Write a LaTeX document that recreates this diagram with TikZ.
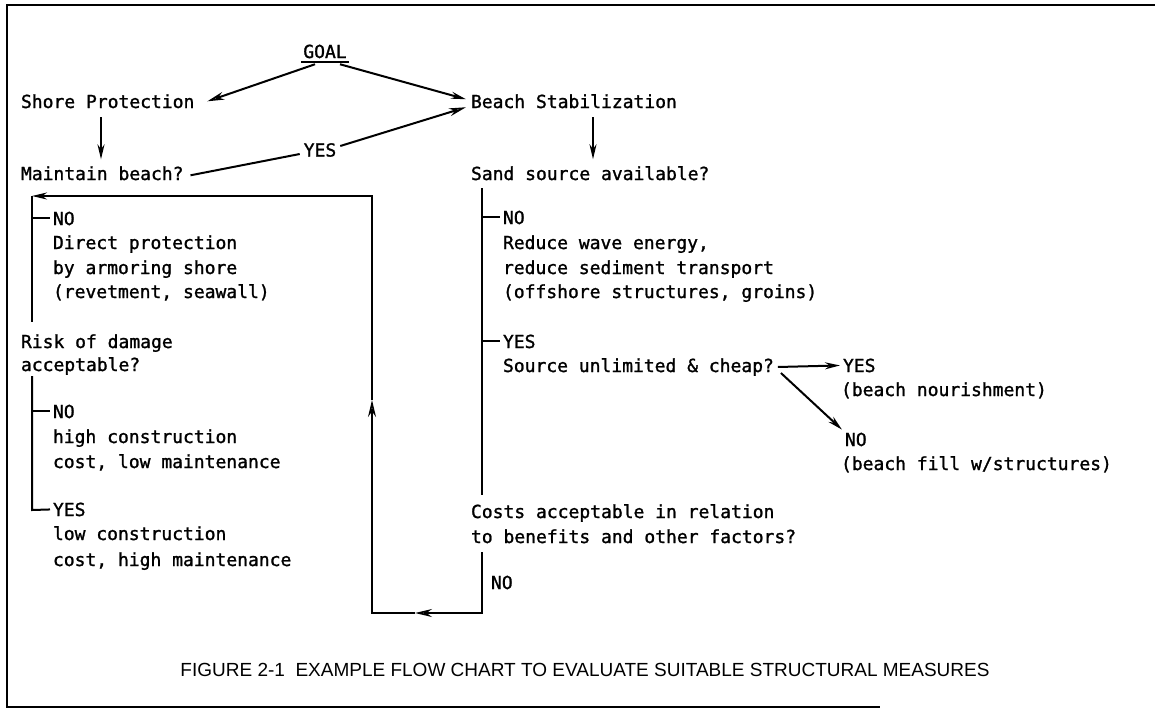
\documentclass[tikz,border=0pt]{standalone}
\usepackage{fontspec}
\setmainfont{Liberation Sans}
\newfontfamily\monof[FakeBold=1.3]{DejaVu Sans Mono}
\usetikzlibrary{arrows.meta,calc}
\begin{document}
\begin{tikzpicture}[x=1pt,y=-1pt,line width=2pt,
  txt/.style={font=\monof\fontsize{18}{24}\selectfont,inner sep=0pt,anchor=base west},
  fa/.style={-{Stealth[length=15pt,width=7pt]}},
  oa/.style={-{Stealth[open,length=17pt,width=8pt,line width=1.6pt]}}]
\useasboundingbox (0,0) rectangle (1155,713);
% frame
\draw (1155,5) -- (7,5) -- (7,707) -- (880,707);
% top
\node[txt,anchor=base] (goal) at (325,58) {GOAL};
\draw ($(goal.south west)+(-1,3)$) -- ($(goal.south east)+(1,3)$);
\node[txt] (shore) at (20,108) {Shore Protection};
\node[txt] (beach) at (470,108) {Beach Stabilization};
\draw[oa] ($(goal.south)+(-10,5)$) -- ($(shore.east)+(12,0)$);
\draw[fa] ($(goal.south)+(15,5)$) -- ($(beach.west)+(-4,-2)$);
\node[txt] (maint) at (20,180) {Maintain beach?};
\node[txt] (sand) at (470,180) {Sand source available?};
\draw[fa] ($(shore.south west)+(81,8)$) -- ($(maint.north west)+(81,-6)$);
\draw[fa] ($(beach.south west)+(123,8)$) -- ($(sand.north west)+(123,-6)$);
\node[txt,anchor=center] (yes1) at (320,150) {YES};
\draw ($(maint.east)+(6,2)$) -- ($(yes1.west)+(-3,4)$);
\draw[oa] ($(yes1.east)+(3,-4)$) -- ($(beach.west)+(-4,6)$);
% left column
\node[txt] (no1) at (52,225) {NO};
\node[txt] (dp1) at (52,249) {Direct protection};
\node[txt] (dp2) at (52,274) {by armoring shore};
\node[txt] (dp3) at (52,298) {(revetment, seawall)};
\node[txt] (risk1) at (20,348) {Risk of damage};
\node[txt] (risk2) at (20,371) {acceptable?};
\node[txt] (no2) at (52,418) {NO};
\node[txt] (hc1) at (52,443) {high construction};
\node[txt] (hc2) at (52,468) {cost, low maintenance};
\node[txt] (yes2) at (52,516) {YES};
\node[txt] (lc1) at (52,540) {low construction};
\node[txt] (lc2) at (52,566) {cost, high maintenance};
\coordinate (la) at (32,196);
\coordinate (lb) at (32,322);
\coordinate (lc) at (32,376);
\coordinate (ld) at (32,510);
\draw (la) -- (lb);
\draw (no1.west -| la) -- ($(no1.west)+(-2,0)$);
\draw (lc) -- (ld) -- ($(yes2.west)+(-2,0)$);
\draw (no2.west -| la) -- ($(no2.west)+(-2,0)$);
% right column
\node[txt] (no3) at (502,224) {NO};
\node[txt] (rw1) at (502,249) {Reduce wave energy,};
\node[txt] (rw2) at (502,274) {reduce sediment transport};
\node[txt] (rw3) at (502,298) {(offshore structures, groins)};
\node[txt] (yes3) at (502,348) {YES};
\node[txt] (src) at (502,372) {Source unlimited \& cheap?};
\node[txt] (yes4) at (842,372) {YES};
\node[txt] (bn) at (840,396) {(beach nourishment)};
\node[txt] (no4) at (844,446) {NO};
\node[txt] (bf) at (840,470) {(beach fill w/structures)};
\node[txt] (cost1) at (470,518) {Costs acceptable in relation};
\node[txt] (cost2) at (470,543) {to benefits and other factors?};
\node[txt] (no5) at (490,589) {NO};
\coordinate (ra) at (482,188);
\coordinate (rb) at (482,495);
\draw (ra) -- (rb);
\draw (no3.west -| ra) -- ($(no3.west)+(-2,0)$);
\draw (yes3.west -| ra) -- ($(yes3.west)+(-2,0)$);
\draw[fa] ($(src.east)+(3,0)$) -- ($(yes4.west)+(-2,0)$);
\draw[fa] ($(src.east)+(6,6)$) -- ($(no4.north west)+(-2,-2)$);
% loop back
\coordinate (c0) at (482,552);
\coordinate (c1) at (482,613);
\coordinate (m1) at (415,613);
\coordinate (c2) at (372,613);
\coordinate (m2) at (372,400);
\coordinate (c3) at (372,196);
\draw[oa] (c0) -- (c1) -- (m1);
\draw[oa] (m1) -- (c2) -- (m2);
\draw[fa] (m2) -- (c3) -- (la);
% caption
\node[font=\fontsize{19}{22}\selectfont,inner sep=0pt] (cap) at (585,670)
  {FIGURE 2-1\ \ EXAMPLE FLOW CHART TO EVALUATE SUITABLE STRUCTURAL MEASURES};
\end{tikzpicture}
\end{document}
